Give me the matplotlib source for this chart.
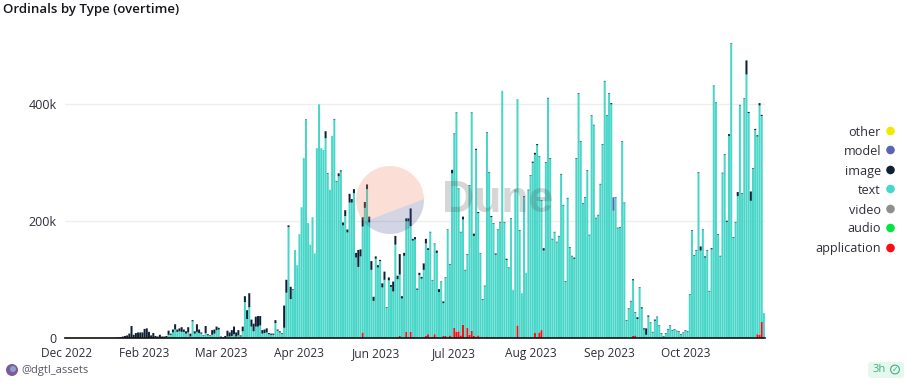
import numpy as np
import matplotlib
matplotlib.use("Agg")
import matplotlib.pyplot as plt
from matplotlib.patches import Circle, FancyBboxPatch, Polygon

# Values in thousands, one entry per daily bar.
# text_level is the height of the top of the teal band (it sits on application).
text_level = [0] * 46 + [
    2, 6, 6, 10, 15, 11, 12, 11, 11, 8, 10, 3, 29, 8, 11, 9, 8, 4, 9, 5, 4, 6, 8, 14, 15, 1, 1, 1, 3, 3, 4, 7, 3, 5, 3, 12,
    62, 33, 53, 20, 12, 20, 20, 22, 8, 9, 10, 7, 6, 6, 26, 13, 10, 8, 18, 78, 190, 67, 83,
    151, 125, 178, 224, 308, 373, 197, 160, 207, 145, 325, 400, 325, 322, 342, 281, 254, 346, 374, 268,
    277, 285, 193, 209, 181, 232, 232, 248, 138, 122, 140, 191, 223, 255, 198, 117, 64, 136, 121, 132,
    87, 100, 52, 99, 88, 80, 160, 101, 109, 68, 141, 200, 200, 192, 167, 169, 83, 108, 102, 117,
    162, 151, 181, 98, 161, 146, 79, 96, 60, 103, 185, 126, 282, 349, 385, 255, 181, 203, 116, 143,
    261, 385, 175, 322, 214, 144, 66, 89, 351, 283, 207, 196, 143, 185, 198, 423, 198, 134, 120, 204,
    83, 253, 409, 184, 77, 242, 112, 253, 278, 300, 314, 330,
    310, 235, 150, 300, 410, 307, 169, 181, 164, 174, 280, 227, 97, 239, 155, 140, 136, 307, 418, 336,
    230, 240, 286, 176, 380, 364, 205, 210, 263, 331, 439, 380, 418, 400, 218, 240, 188, 189, 336, 231,
    30, 50, 63, 99, 44, 33, 86, 51, 15, 6, 37, 26, 10, 30, 36, 21, 8, 3, 8, 15,
    21, 13, 15, 12, 11, 6, 9, 13, 11, 74, 184, 141, 150, 283, 150, 185, 138, 150, 80, 152,
    431, 402, 177, 140, 282, 314, 199, 346, 503, 172, 198, 243, 398, 247, 409, 451, 385, 235, 290, 356,
    345, 398, 380, 43,
]

image = [0] * 22 + [
    0.5, 1, 1, 2, 3, 4, 5, 8, 21, 6, 9, 10, 10, 10, 16, 17, 11, 5, 9, 4, 3, 6, 3, 3,
    2, 7, 2, 5, 9, 4, 5, 8, 4, 4, 9, 5, 2, 4, 13, 6, 2, 1, 12, 2, 1, 8, 7, 6, 3, 2, 1, 3, 10, 7, 10, 13, 7, 9, 2, 8,
    10, 15, 24, 12, 13, 17, 18, 16, 6, 6, 7, 2, 2, 2, 5, 2, 2, 1, 38, 22, 3, 21, 1,
    0, 0, 0, 0, 0, 1, 0, 0, 0, 0, 0, 0, 0, 0, 12, 1, 0, 0, 1, 1,
    5, 2, 5, 10, 5, 15, 6, 7, 8, 29, 12, 16, 10, 8, 10, 15, 7, 4, 4, 2,
    7, 14, 1, 5, 3, 17, 15, 6, 35, 4, 5, 5, 5, 30, 3, 4, 2, 4, 3, 11,
    8, 3, 1, 1, 1, 4, 5, 1, 3, 1, 1, 1, 6, 1, 1, 1, 1, 5, 1, 1,
    1, 1, 4, 2, 2, 1, 1, 1, 1, 1, 2, 1, 2, 1, 1, 0, 1, 2, 1, 1,
    0, 1, 0, 1, 0, 1, 0, 1, 1, 2, 3, 2,
    1, 1, 4, 1, 1, 1, 1, 1, 1, 1, 1, 1, 1, 1, 1, 1, 2, 1, 1, 1,
    1, 1, 1, 1, 1, 1, 1, 1, 1, 1, 1, 1, 1, 2, 0, 1, 1, 1, 1, 1,
    1, 1, 1, 2, 1, 3, 1, 2, 2, 11, 2, 1, 1, 2, 1, 1, 1, 1, 1, 1,
    1, 1, 1, 1, 1, 1, 1, 1, 1, 1, 1, 1, 1, 1, 7, 1, 2, 1, 1, 2,
    1, 1, 1, 1, 1, 1, 2, 3, 1, 1, 1, 7, 1, 1, 1, 24, 2, 16, 1, 2,
    2, 4, 2, 0,
]

# Red bars are sparse, so they are kept as bar number / value pairs.
application_days = [58, 82, 112, 122, 136, 153, 156, 158, 159, 165, 166, 168, 169, 173, 174, 176, 178, 179, 180, 181,
                    182, 184, 185, 186, 187, 188, 189, 193, 196, 207, 210, 213, 215, 217, 218, 221, 227, 230, 260, 261,
                    312, 317, 318, 319]
application_values = [1, 2, 2, 1, 10, 4, 11, 11, 2, 4, 7, 3, 7, 4, 4, 5, 18, 11, 12, 5,
                      23, 18, 6, 13, 4, 3, 5, 3, 2, 22, 2, 2, 9, 10, 14, 2, 2, 1, 4, 5,
                      2, 7, 6, 28]

# The one purple model block.
model_day = 251
model_value = 23

tick_days = [0, 36, 71, 107, 142, 178, 213, 249, 284]
tick_labels = ["Dec 2022", "Feb 2023", "Mar 2023", "Apr 2023", "Jun 2023", "Jul 2023", "Aug 2023", "Sep 2023", "Oct 2023"]
legend_names = ["other", "model", "image", "text", "video", "audio", "application"]
legend_colors = ["#f0ea00", "#5b64b0", "#0e2035", "#48d6c8", "#8f8f8f", "#00e640", "#ff0a14"]

W, H = 908, 386
FONT = "Open Sans"
INK = "#2e2e3a"

n = max(len(text_level), len(image))
text_level = np.array(text_level + [0] * (n - len(text_level)), dtype=float)
image = np.array(image + [0] * (n - len(image)), dtype=float)
application = np.zeros(n)
application[application_days] = application_values
days = np.arange(n)


def px(x, y):
    # image pixels (origin top left) to figure fraction
    return x / W, 1 - y / H


fig = plt.figure(figsize=(W / 100, H / 100), dpi=100)
ax = fig.add_axes([65 / W, (H - 338.3) / H, 700 / W, 308.3 / H])

# snap off, otherwise the 2px bars land unevenly on the pixel grid
width = 0.92
ax.bar(days, application, width, color=legend_colors[6], zorder=3, snap=False)
ax.bar(days, text_level - application, width, bottom=application, color=legend_colors[3], zorder=3, snap=False)
ax.bar(days, image, width, bottom=text_level, color=legend_colors[2], zorder=3, snap=False)
ax.bar(model_day, model_value, width, bottom=text_level[model_day], color=legend_colors[1], zorder=3, snap=False)

ax.set_xlim(-0.5, n - 0.5)
ax.set_ylim(0, 308.3 / 117 * 200)
ax.set_yticks([0, 200, 400], ["0", "200k", "400k"])
ax.set_xticks(tick_days, tick_labels)
ax.grid(axis="y", color="#eeeeee", linewidth=1, zorder=0)
ax.set_axisbelow(True)
for side in ["top", "right", "left"]:
    ax.spines[side].set_visible(False)
ax.spines["bottom"].set_color("#111111")
ax.spines["bottom"].set_linewidth(1.2)
ax.spines["bottom"].set_zorder(5)
ax.tick_params(axis="both", length=0, labelcolor=INK)
ax.tick_params(axis="x", pad=6, labelsize=8.6)
ax.tick_params(axis="y", pad=6, labelsize=9)
for label in ax.get_xticklabels() + ax.get_yticklabels():
    label.set_fontfamily(FONT)

# Title
x, y = px(3, 10)
fig.text(x, y, "Ordinals by Type (overtime)", family=FONT, fontsize=9.5, weight="semibold", color="#15151c", va="center")

# Legend
legend_y = [132, 151, 171, 190, 210, 229, 249]
for name, color, ly in zip(legend_names, legend_colors, legend_y):
    x, y = px(881, ly)
    fig.text(x, y, name, family=FONT, fontsize=9.1, color=INK, ha="right", va="center")
    fig.add_artist(Circle((890.5, H - ly + 1), 4.3, transform=None, color=color, lw=0))

# Dune watermark
cx, cy, r = 390, H - 200, 34
lower = np.radians(np.linspace(220, 361.7, 60))
upper = np.radians(np.linspace(1.7, 220, 80))
for angles, color, alpha in [(upper, "#f2805f", 0.26), (lower, "#4a4f8f", 0.24)]:
    pts = np.column_stack([cx + r * np.cos(angles), cy + r * np.sin(angles)])
    fig.add_artist(Polygon(pts, closed=True, transform=None, facecolor=color, alpha=alpha, lw=0, zorder=6))
x, y = px(442, 201)
fig.text(x, y, "Dune", family="Liberation Sans", fontsize=32, weight="bold", color="#555555", alpha=0.24, va="center", zorder=6)

# Footer
fig.add_artist(Circle((12, H - 370), 6, transform=None, color="#7d5a9e", lw=0))
fig.add_artist(Circle((13, H - 369), 3, transform=None, color="#8fa0c8", lw=0))
x, y = px(21, 370)
fig.text(x, y, "@dgtl_assets", family=FONT, fontsize=8, color="#55555f", va="center")

fig.add_artist(FancyBboxPatch((868, H - 378), 36, 16, boxstyle="round,pad=0,rounding_size=3", transform=None,
                              facecolor="#e6f7f0", edgecolor="none"))
x, y = px(873, 369.5)
fig.text(x, y, "3h", family=FONT, fontsize=8, color="#3cb37c", va="center")
fig.add_artist(Circle((895, H - 369.5), 4.4, transform=None, facecolor="none", edgecolor="#3cb37c", lw=0.8))
x, y = px(895, 369.5)
fig.text(x, y, "\u2713", family="DejaVu Sans", fontsize=5.5, color="#3cb37c", ha="center", va="center")

fig.savefig("out.png", dpi=100)
